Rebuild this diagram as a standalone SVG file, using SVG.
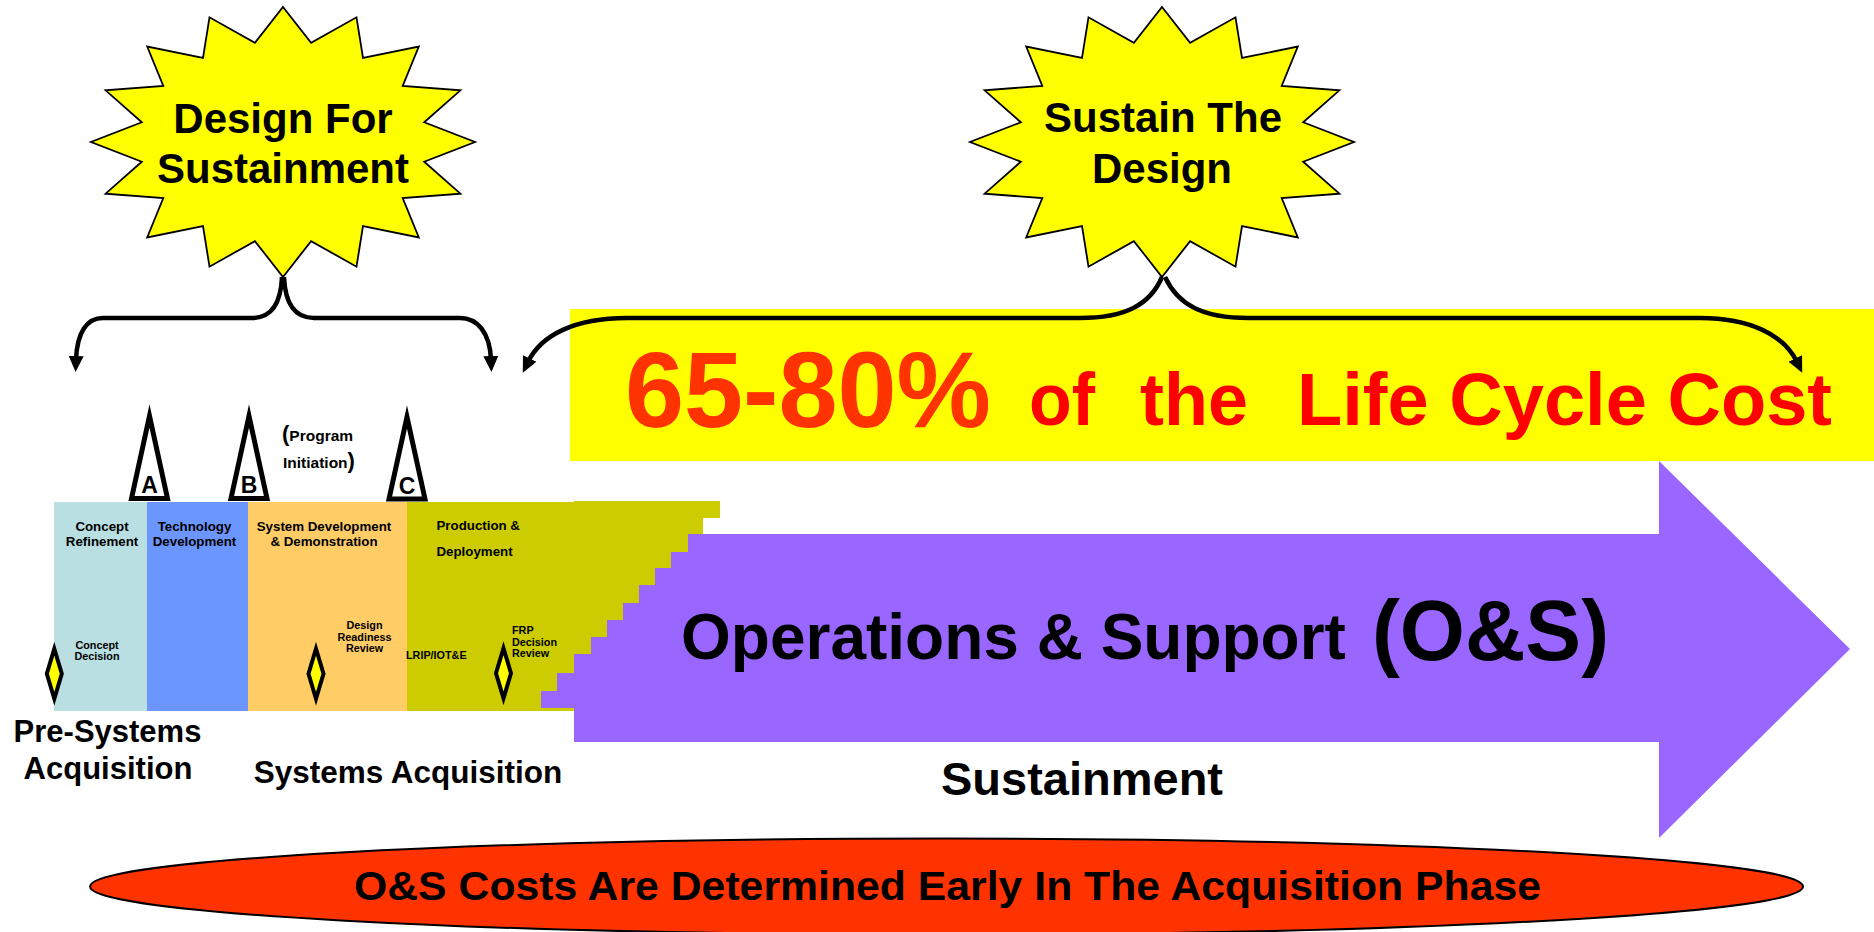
<svg xmlns="http://www.w3.org/2000/svg" width="1874" height="932" viewBox="0 0 1874 932">
  <style>
    text { font-family: "Liberation Sans", Arial, sans-serif; font-weight: bold; fill: #000; }
    .burst { fill: #FFFF00; stroke: #000; stroke-width: 1.8; stroke-linejoin: miter; }
    .burst-txt { font-size: 42px; text-anchor: middle; }
    .ms { fill: #fff; stroke: #000; stroke-width: 5; stroke-linejoin: miter; stroke-miterlimit: 12; }
    .ms-txt { font-size: 23px; text-anchor: middle; }
    .dmd { fill: #FFFF00; stroke: #000; stroke-width: 4; stroke-linejoin: miter; stroke-miterlimit: 12; }
    .phase { font-size: 13.3px; }
    .mid { text-anchor: middle; }
    .tiny { font-size: 10.8px; }
    .big { font-size: 31px; text-anchor: middle; }
    .brace { fill: none; stroke: #000; stroke-width: 4.5; marker-end: url(#head); }
  </style>
  <defs>
    <!-- 16-point starburst, centred on the origin -->
    <polygon id="star16" points="0,-135 28.1,-99.1 73.5,-124.7 80,-84 135.8,-95.5 119.7,-56.1 177.4,-51.7 141.2,-19.7 192,0 141.2,19.7 177.4,51.7 119.7,56.1 135.8,95.5 80,84 73.5,124.7 28.1,99.1 0,135 -28.1,99.1 -73.5,124.7 -80,84 -135.8,95.5 -119.7,56.1 -177.4,51.7 -141.2,19.7 -192,0 -141.2,-19.7 -177.4,-51.7 -119.7,-56.1 -135.8,-95.5 -80,-84 -73.5,-124.7 -28.1,-99.1"/>
    <!-- decision-point diamond -->
    <polygon id="diamond" points="0,-25 7.5,0 0,25 -7.5,0"/>
    <marker id="head" markerUnits="userSpaceOnUse" markerWidth="16" markerHeight="16" viewBox="0 0 16 16" refX="4" refY="8" orient="auto">
      <path d="M0,0.5 L16,8 L0,15.5 z" fill="#000"/>
    </marker>
  </defs>

  <!-- cost banner -->
  <g id="cost-banner">
    <rect x="570" y="309" width="1304" height="152" fill="#FFFF00"/>
    <text x="625" y="427" font-size="108" fill="#FF3300" style="fill:#FF3300" textLength="366" lengthAdjust="spacingAndGlyphs">65-80%</text>
    <text x="1029" y="425" font-size="75" style="fill:#FF0000" textLength="66" lengthAdjust="spacingAndGlyphs">of</text>
    <text x="1140" y="425" font-size="75" style="fill:#FF0000" textLength="108" lengthAdjust="spacingAndGlyphs">the</text>
    <text x="1297" y="425" font-size="75" style="fill:#FF0000" textLength="535" lengthAdjust="spacingAndGlyphs">Life Cycle Cost</text>
  </g>

  <!-- acquisition phases -->
  <g id="phase-concept">
    <rect x="54" y="502" width="93" height="209" fill="#B9DFE2"/>
    <text class="phase mid" x="102" y="530.7">Concept</text>
    <text class="phase mid" x="102" y="545.5">Refinement</text>
  </g>
  <g id="phase-technology">
    <rect x="147" y="502" width="101" height="209" fill="#6B95FF"/>
    <text class="phase mid" x="194.5" y="530.7">Technology</text>
    <text class="phase mid" x="194.5" y="545.5">Development</text>
  </g>
  <g id="phase-sdd">
    <rect x="248" y="502" width="159" height="209" fill="#FFCC66"/>
    <text class="phase mid" x="324" y="530.7">System Development</text>
    <text class="phase mid" x="324" y="545.5">&amp; Demonstration</text>
  </g>
  <g id="phase-production">
    <polygon fill="#CCCC00" points="407,502 574,502 574,501 720,501 720,518 703,518 703,535 688,535 688,552 671,552 671,568 655,568 655,585 639,585 639,603 623,603 623,620 607,620 607,637 591,637 591,654 574,654 574,673 557,673 557,691 541,691 541,708 574,708 574,711 407,711"/>
    <text class="phase" x="436.5" y="530.3">Production &amp;</text>
    <text class="phase" x="436.5" y="556">Deployment</text>
  </g>

  <!-- operations & support arrow -->
  <g id="os-arrow">
    <polygon fill="#9966FF" points="688,534 1659,534 1659,461 1850,649 1659,838 1659,742 574,742 574,708 541,708 541,691 557,691 557,673 574,673 574,654 591,654 591,637 607,637 607,620 623,620 623,603 639,603 639,585 655,585 655,568 671,568 671,552 688,552"/>
    <text x="681" y="659" font-size="64">Operations &amp; Support</text>
    <text x="1372" y="660" font-size="86" textLength="237" lengthAdjust="spacingAndGlyphs">(O&amp;S)</text>
  </g>

  <!-- milestones -->
  <g id="milestone-a">
    <polygon class="ms" points="149.5,416 167.5,498.5 131.5,498.5"/>
    <text class="ms-txt" x="149.5" y="493">A</text>
  </g>
  <g id="milestone-b">
    <polygon class="ms" points="249,416 267,498.5 231,498.5"/>
    <text class="ms-txt" x="249" y="493">B</text>
  </g>
  <g id="milestone-c">
    <polygon class="ms" points="407,417 425,499 389,499"/>
    <text class="ms-txt" x="407" y="494">C</text>
  </g>
  <g id="program-initiation">
    <text x="282" y="441"><tspan font-size="22">(</tspan><tspan font-size="15.5">Program</tspan></text>
    <text x="283" y="468"><tspan font-size="15.5">Initiation</tspan><tspan font-size="22">)</tspan></text>
  </g>

  <!-- decision points -->
  <g id="concept-decision">
    <use href="#diamond" class="dmd" x="54.3" y="673.7"/>
    <text class="tiny mid" x="97" y="649.3">Concept</text>
    <text class="tiny mid" x="97" y="659.7">Decision</text>
  </g>
  <g id="design-readiness-review">
    <use href="#diamond" class="dmd" x="316" y="673.7"/>
    <text class="tiny mid" x="364.5" y="629.3">Design</text>
    <text class="tiny mid" x="364.5" y="640.7">Readiness</text>
    <text class="tiny mid" x="364.5" y="652">Review</text>
  </g>
  <g id="lrip">
    <text class="tiny" x="406" y="658.5">LRIP/IOT&amp;E</text>
  </g>
  <g id="frp-decision-review">
    <use href="#diamond" class="dmd" x="503.5" y="673.3"/>
    <text class="tiny" x="512" y="634.3">FRP</text>
    <text class="tiny" x="512" y="645.7">Decision</text>
    <text class="tiny" x="512" y="656.7">Review</text>
  </g>

  <!-- stage captions -->
  <g id="captions">
    <text class="big" x="107.5" y="742">Pre-Systems</text>
    <text class="big" x="108" y="779">Acquisition</text>
    <text class="big" x="408" y="783" font-size="31.5" style="font-size:31.5px">Systems Acquisition</text>
    <text x="1082" y="795" font-size="47" text-anchor="middle">Sustainment</text>
  </g>

  <!-- starbursts -->
  <g id="design-for-sustainment">
    <use href="#star16" class="burst" x="283" y="142"/>
    <text class="burst-txt" x="283" y="133">Design For</text>
    <text class="burst-txt" x="283" y="183">Sustainment</text>
  </g>
  <g id="sustain-the-design">
    <use href="#star16" class="burst" x="1162" y="142"/>
    <text class="burst-txt" x="1163" y="132">Sustain The</text>
    <text class="burst-txt" x="1162" y="183">Design</text>
  </g>

  <!-- brace connectors -->
  <g id="connectors">
    <path class="brace" d="M282,277 C281,300 274,318 252,318 L103,318 C87,318 77,332 76,360"/>
    <path class="brace" d="M284,277 C285,300 292,318 314,318 L460,318 C477,318 490,332 491,360"/>
    <path class="brace" d="M1162,277 C1150,305 1125,318 1080,318 L627,318 C575,318 541,335 528,362"/>
    <path class="brace" d="M1165,277 C1178,305 1203,318 1248,318 L1700,318 C1750,318 1784,335 1797,362"/>
  </g>

  <!-- bottom note -->
  <g id="os-note">
    <ellipse cx="946.5" cy="886.5" rx="856.5" ry="48" fill="#FF3300" stroke="#000" stroke-width="2"/>
    <text x="354" y="900" font-size="40" textLength="1187" lengthAdjust="spacingAndGlyphs">O&amp;S Costs Are Determined Early In The Acquisition Phase</text>
  </g>
</svg>
